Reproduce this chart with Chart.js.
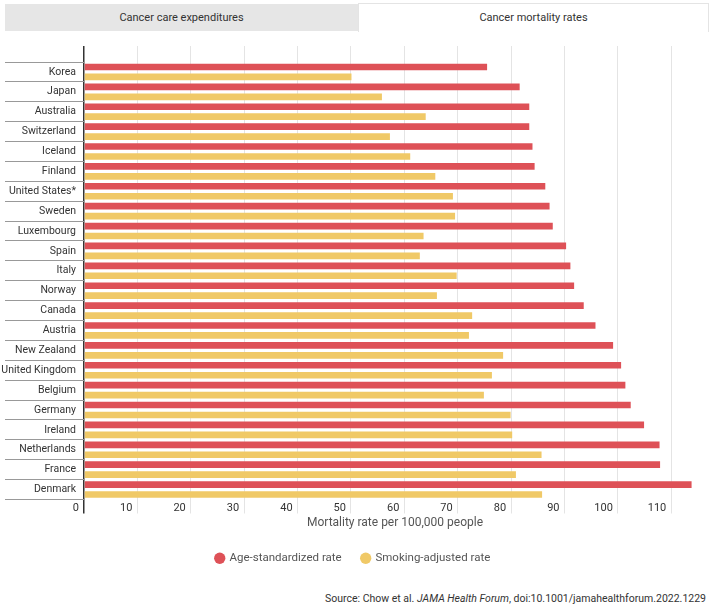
<!DOCTYPE html>
<html lang="en">
  <head>
    <meta charset="UTF-8" />
    <title>Cancer mortality rates</title>
    <script src="https://cdn.jsdelivr.net/npm/chart.js"></script>
    <style>
      body {
        margin: 0;
        width: 716px;
        height: 607px;
        background: #fff;
        font-family: Roboto, sans-serif;
        position: relative;
        overflow: hidden;
      }
      .tab {
        position: absolute;
        top: 4px;
        height: 27px;
        line-height: 27px;
        text-align: center;
        font-size: 11px;
        color: #333;
      }
      .tab-off {
        left: 5px;
        width: 353px;
        background: #e6e6e6;
      }
      .tab-on {
        left: 358px;
        width: 349px;
        top: 3px;
        height: 28px;
        border: 1px solid #e4e4e4;
        border-bottom: none;
        background: #fff;
      }
      .chart-box {
        position: absolute;
        left: 0;
        top: 40px;
        width: 716px;
        height: 534px;
      }
      .source {
        position: absolute;
        right: 10px;
        top: 592px;
        font-size: 10.5px;
        color: #333;
      }
    </style>
  </head>
  <body>
    <div class="tab tab-off">Cancer care expenditures</div>
    <div class="tab tab-on">Cancer mortality rates</div>

    <div class="chart-box">
      <canvas id="mortalityChart"></canvas>
    </div>

    <div class="source">Source: Chow et al. <i>JAMA Health Forum</i>, doi:10.1001/jamahealthforum.2022.1229</div>

    <script>
      const countries = [
        "Korea", "Japan", "Australia", "Switzerland", "Iceland", "Finland",
        "United States*", "Sweden", "Luxembourg", "Spain", "Italy", "Norway",
        "Canada", "Austria", "New Zealand", "United Kingdom", "Belgium",
        "Germany", "Ireland", "Netherlands", "France", "Denmark"
      ];
      const ageStandardized = [
        75.5, 81.6, 83.4, 83.4, 84.0, 84.4, 86.4, 87.2, 87.8, 90.3, 91.1,
        91.8, 93.6, 95.8, 99.1, 100.6, 101.4, 102.4, 104.9, 107.8, 107.9, 113.8
      ];
      const smokingAdjusted = [
        50.1, 55.8, 64.0, 57.3, 61.1, 65.8, 69.1, 69.5, 63.6, 62.9, 69.8,
        66.1, 72.7, 72.1, 78.5, 76.4, 74.9, 79.9, 80.2, 85.7, 80.9, 85.8
      ];
      const seriesNames = ["Age-standardized rate", "Smoking-adjusted rate"];
      const axisTitle = "Mortality rate per 100,000 people";

      const FONT = "Roboto, sans-serif";
      const RED = "#de5157";
      const YELLOW = "#f0c967";

      // zero line is drawn darker, like an axis
      const gridColor = (ctx) => (ctx.tick && ctx.tick.value === 0 ? "#333" : "#e4e4e4");
      const gridWidth = (ctx) => (ctx.tick && ctx.tick.value === 0 ? 1.5 : 1);

      new Chart(document.getElementById("mortalityChart"), {
        type: "bar",
        data: {
          labels: countries,
          datasets: [
            { label: seriesNames[0], data: ageStandardized, backgroundColor: RED },
            { label: seriesNames[1], data: smokingAdjusted, backgroundColor: YELLOW }
          ]
        },
        options: {
          indexAxis: "y",
          responsive: true,
          maintainAspectRatio: false,
          animation: false,
          categoryPercentage: 1.0,
          barPercentage: 0.67,
          layout: { padding: { left: 0, right: 10, top: 6, bottom: 0 } },
          scales: {
            x: {
              position: "bottom",
              min: 0,
              max: 116.5,
              border: { display: false },
              grid: { color: gridColor, lineWidth: gridWidth, tickLength: 14 },
              ticks: {
                stepSize: 10,
                includeBounds: false,
                align: "end",
                labelOffset: -5,
                padding: -12,
                color: "#333",
                font: { family: FONT, size: 11 }
              },
              title: {
                display: true,
                text: axisTitle,
                color: "#555",
                padding: { top: 2, bottom: 2 },
                font: { family: FONT, size: 12 }
              },
              afterFit: (scale) => {
                scale.height = 33;
              }
            },
            x2: {
              position: "top",
              axis: "x",
              min: 0,
              max: 116.5,
              border: { display: false },
              grid: { color: gridColor, lineWidth: gridWidth, drawOnChartArea: false, tickLength: 16 },
              ticks: { stepSize: 10, includeBounds: false, display: false }
            },
            y: {
              border: { display: false },
              grid: { offset: true, drawOnChartArea: false, tickLength: 79, color: "#999" },
              ticks: {
                padding: -71,
                color: "#333",
                font: { family: FONT, size: 10.5 }
              },
              afterFit: (scale) => {
                scale.width = 84;
              }
            }
          },
          plugins: {
            legend: {
              position: "bottom",
              labels: {
                usePointStyle: true,
                pointStyle: "circle",
                boxWidth: 8,
                boxHeight: 8,
                padding: 20,
                color: "#555",
                font: { family: FONT, size: 11.5 }
              }
            },
            tooltip: { enabled: false }
          }
        }
      });
    </script>
  </body>
</html>
